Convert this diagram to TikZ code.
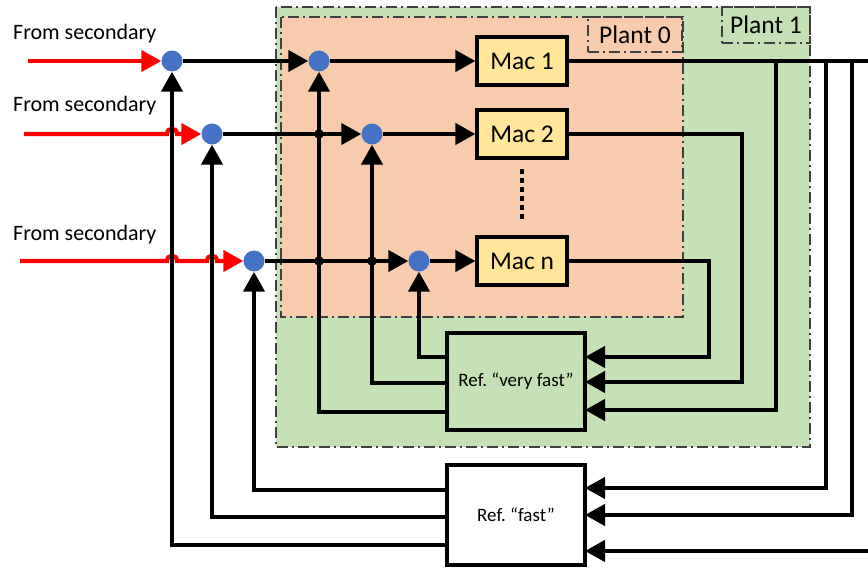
\documentclass[tikz,border=0pt]{standalone}
\usepackage{fontspec}
\setmainfont{Carlito}
\usetikzlibrary{arrows.meta}
\frenchspacing
\definecolor{plantgreen}{HTML}{C5E0B4}
\definecolor{plantorange}{HTML}{F8CBAD}
\definecolor{macyellow}{HTML}{FFE699}
\definecolor{dotblue}{HTML}{4472C4}
\definecolor{bordergray}{HTML}{404040}
\tikzset{
  wire/.style={line width=4.2pt, black},
  arr/.style={wire, -{Triangle[length=20pt,width=21pt]}},
  redarr/.style={line width=4.2pt, red, -{Triangle[length=20pt,width=21pt]}},
  plantborder/.style={draw=bordergray, line width=1.4pt, dash pattern=on 11pt off 4pt on 2pt off 4pt},
  macbox/.style={draw, line width=3.2pt, fill=macyellow, minimum width=90pt, minimum height=48pt, inner sep=0pt, font=\fontsize{25.5}{30}\selectfont},
  refbox/.style={draw, line width=3.2pt, minimum width=138pt, inner sep=0pt, font=\fontsize{19}{23}\selectfont},
  junc/.style={circle, fill=dotblue, minimum size=21pt, inner sep=0pt},
  lbl/.style={anchor=west, inner sep=0pt, font=\fontsize{22}{26}\selectfont},
  plantlbl/.style={plantborder, inner sep=0pt, font=\fontsize{25.5}{30}\selectfont},
  xing/.style={fill=black}
}
\begin{document}
\begin{tikzpicture}[x=1pt,y=-1pt]
\useasboundingbox (0,0) rectangle (868,569);
% plant regions
\fill[plantgreen] (276,7) rectangle (810,447);
\fill[plantorange] (281,17) rectangle (683,317);
\draw[plantborder] (276,7) rectangle (810,447);
\draw[plantborder] (281,17) rectangle (683,317);
\node[plantlbl, minimum width=94pt, minimum height=35pt] (p0) at (635,34.5) {Plant 0};
\node[plantlbl, minimum width=88pt, minimum height=36pt] (p1) at (766,25) {Plant 1};

% labels
\node[lbl] (l1) at (13,34) {From secondary};
\node[lbl] (l2) at (13,106) {From secondary};
\node[lbl] (l3) at (13,235) {From secondary};

% junctions
\node[junc] (c1a) at (172,61) {};
\node[junc] (c2a) at (212,134) {};
\node[junc] (c3a) at (254,261) {};
\node[junc] (c1b) at (319,61) {};
\node[junc] (c2b) at (372,134) {};
\node[junc] (c3b) at (419,261) {};

% machines
\node[macbox] (mac1) at (522,61) {Mac 1};
\node[macbox] (mac2) at (522,134) {Mac 2};
\node[macbox] (macn) at (522,261) {Mac n};
\draw[line width=4pt, dash pattern=on 5pt off 4pt] ([yshift=-9pt]mac2.south) -- ([yshift=14pt]macn.north);

% coordinates on the reference boxes
\coordinate (vfi1) at (585,357);
\coordinate (vfi2) at (585,382);
\coordinate (vfi3) at (585,410);
\coordinate (fi1) at (585,488);
\coordinate (fi2) at (585,515);
\coordinate (fi3) at (585,551);
\coordinate (vfo1) at (447,357);
\coordinate (vfo2) at (447,383);
\coordinate (vfo3) at (447,412);
\coordinate (fo1) at (447,490);
\coordinate (fo2) at (447,517);
\coordinate (fo3) at (447,545);
\coordinate (r1) at (28,61);
\coordinate (r2) at (24,134);
\coordinate (r3) at (20,261);
\coordinate (j1) at (776,61);
\coordinate (j2) at (826,61);
\coordinate (j3) at (852,61);
\coordinate (j4) at (882,61);

% red inputs with hops
\draw[redarr] (r1) -- (c1a);
\draw[redarr] (r2) -- (167,134) .. controls (167,127) and (177,127) .. (177,134) -- (c2a);
\draw[redarr] (r3) -- (167,261) .. controls (167,254) and (177,254) .. (177,261)
  -- (207,261) .. controls (207,254) and (217,254) .. (217,261) -- (c3a);

% forward paths
\draw[arr] (c1a) -- (c1b);
\draw[arr] (c2a) -- (c2b);
\draw[arr] (c3a) -- (c3b);
\draw[arr] (c1b) -- (mac1);
\draw[arr] (c2b) -- (mac2);
\draw[arr] (c3b) -- (macn);
\fill[xing] (319,134) circle[radius=4.8pt];
\fill[xing] (319,261) circle[radius=4.8pt];
\fill[xing] (372,261) circle[radius=4.8pt];

% machine outputs
\draw[arr] (macn.east) -| (709,357) -- (vfi1);
\draw[arr] (mac2.east) -| (742,382) -- (vfi2);
\draw[wire] (mac1.east) -- (j4);
\draw[arr] (j1) |- (vfi3);
\draw[arr] (j2) |- (fi1);
\draw[arr] (j3) |- (fi2);
\draw[arr] (j4) |- (fi3);

% references back to junctions
\draw[arr] (vfo1) -| (c3b);
\draw[arr] (vfo2) -| (c2b);
\draw[arr] (vfo3) -| (c1b);
\draw[arr] (fo1) -| (c3a);
\draw[arr] (fo2) -| (c2a);
\draw[arr] (fo3) -| (c1a);

% reference boxes
\node[refbox, fill=plantgreen, minimum height=97pt] (vf) at (516,381.5) {Ref. “very fast”};
\node[refbox, fill=white, minimum height=100pt] (fast) at (516,515) {Ref. “fast”};
\end{tikzpicture}
\end{document}
